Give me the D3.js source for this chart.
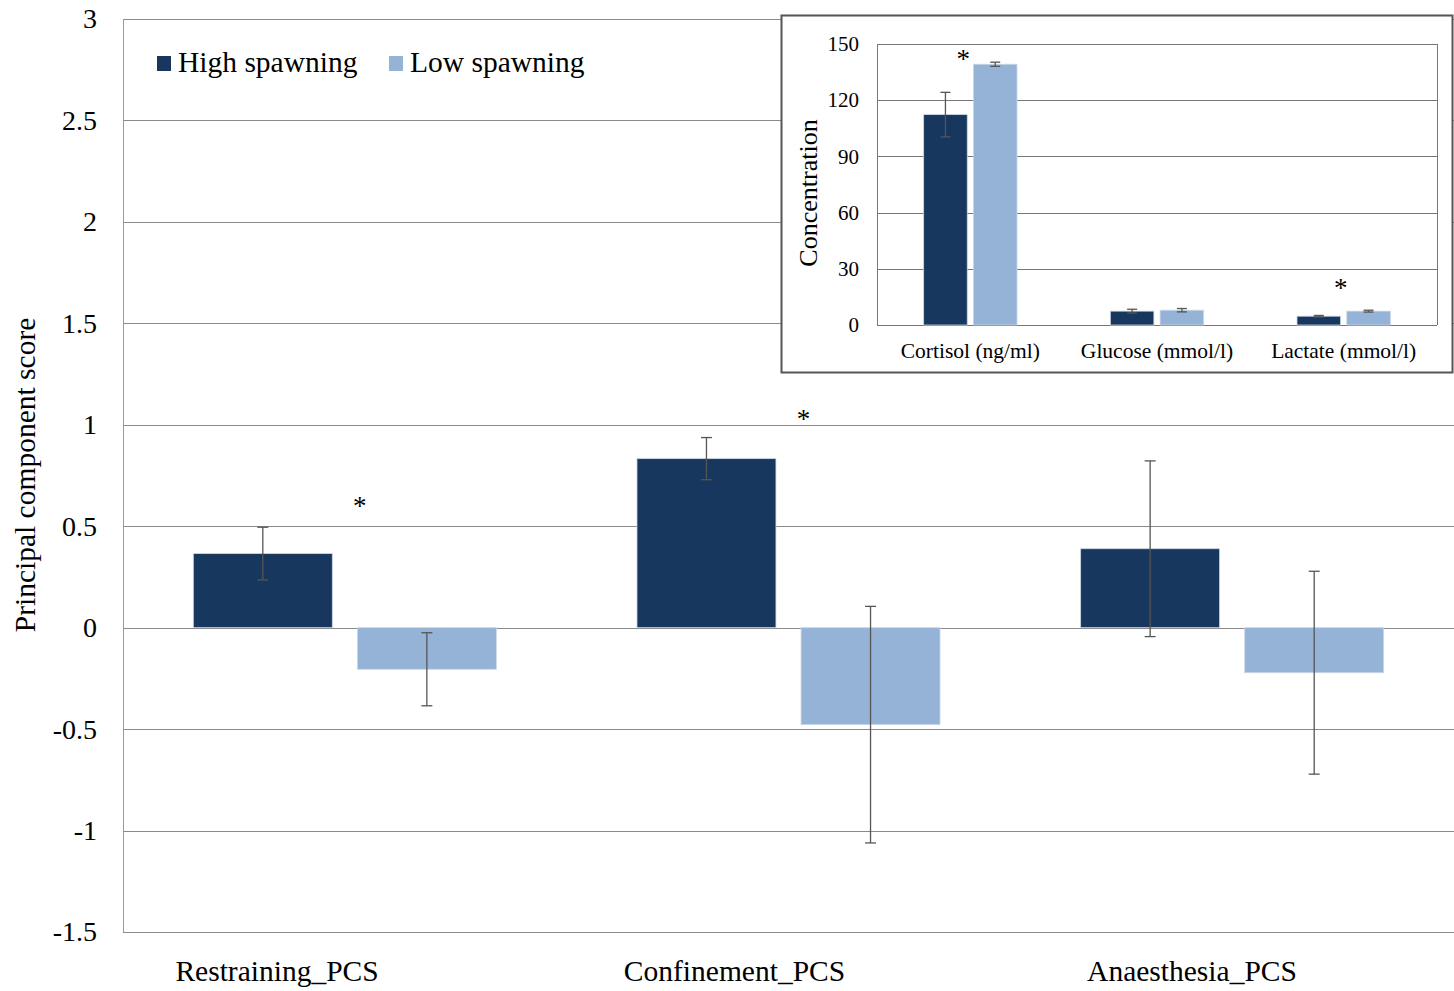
<!DOCTYPE html>
<html>
<head>
<meta charset="utf-8">
<script src="https://cdn.jsdelivr.net/npm/d3@7"></script>
<style>
  html, body { margin: 0; padding: 0; background: #fff; }
  svg { display: block; }
  text { font-family: "Liberation Serif", "Times New Roman", serif; fill: #000; }
</style>
</head>
<body>
<svg id="chart" width="1454" height="991"></svg>
<script>
// Principal component scores by stressor
const categories = ["Restraining_PCS", "Confinement_PCS", "Anaesthesia_PCS"];
const seriesNames = ["High spawning", "Low spawning"];
const highMeans = [0.365, 0.833, 0.389];
const highErrors = [0.13, 0.104, 0.433];
const lowMeans = [-0.205, -0.478, -0.222];
const lowErrors = [0.18, 0.583, 0.50];
const yTicks = [3, 2.5, 2, 1.5, 1, 0.5, 0, -0.5, -1, -1.5];
const significant = ["Restraining_PCS", "Confinement_PCS"];

// Inset: plasma concentrations
const insetCategories = ["Cortisol (ng/ml)", "Glucose (mmol/l)", "Lactate (mmol/l)"];
const insetHighMeans = [112.3, 7.4, 4.7];
const insetHighErrors = [11.9, 1.0, 0.4];
const insetLowMeans = [139.2, 7.9, 7.4];
const insetLowErrors = [1.1, 0.9, 0.5];
const insetTicks = [0, 30, 60, 90, 120, 150];
const insetSignificant = ["Cortisol (ng/ml)", "Lactate (mmol/l)"];

const colors = ["#17375e", "#95b3d7"];
const svg = d3.select("#chart");

// plain hyphen-minus tick text
const plainFormat = d => String(d);

function groupedBars(g, cats, highs, highErr, lows, lowErr, x, xInner, y, capHalf) {
  const rows = cats.map((c, i) => [
    { cat: c, s: 0, v: highs[i], e: highErr[i] },
    { cat: c, s: 1, v: lows[i], e: lowErr[i] }
  ]).flat();
  g.selectAll("rect.bar").data(rows).join("rect")
    .attr("class", "bar")
    .attr("x", d => x(d.cat) + xInner(d.s))
    .attr("width", xInner.bandwidth())
    .attr("y", d => y(Math.max(0, d.v)))
    .attr("height", d => Math.abs(y(d.v) - y(0)))
    .attr("fill", d => colors[d.s])
    .attr("stroke", "#c9d6e6")
    .attr("stroke-width", 0.8);
  const eb = g.selectAll("g.err").data(rows).join("g").attr("class", "err")
    .attr("stroke", "#555").attr("stroke-width", 1.3);
  const cx = d => x(d.cat) + xInner(d.s) + xInner.bandwidth() / 2;
  eb.append("line").attr("x1", cx).attr("x2", cx)
    .attr("y1", d => y(d.v + d.e)).attr("y2", d => y(d.v - d.e));
  eb.append("line").attr("x1", d => cx(d) - capHalf).attr("x2", d => cx(d) + capHalf)
    .attr("y1", d => y(d.v + d.e)).attr("y2", d => y(d.v + d.e));
  eb.append("line").attr("x1", d => cx(d) - capHalf).attr("x2", d => cx(d) + capHalf)
    .attr("y1", d => y(d.v - d.e)).attr("y2", d => y(d.v - d.e));
}

// ---------- main chart ----------
const M = { left: 123, right: 1454, top: 19, bottom: 932 };
const x = d3.scaleBand().domain(categories).range([M.left, M.right]).paddingInner(0.317).paddingOuter(0.1585);
const xInner = d3.scaleBand().domain([0, 1]).range([0, x.bandwidth()]).paddingInner(0.153);
const y = d3.scaleLinear().domain([-1.5, 3]).range([M.bottom, M.top]);

const main = svg.append("g");
// gridlines
main.append("g").selectAll("line").data(yTicks).join("line")
  .attr("x1", M.left).attr("x2", M.right)
  .attr("y1", d => Math.round(y(d)) + 0.5).attr("y2", d => Math.round(y(d)) + 0.5)
  .attr("stroke", "#8a8a8a").attr("stroke-width", 1);
// left axis line
main.append("line").attr("x1", M.left + 0.5).attr("x2", M.left + 0.5)
  .attr("y1", M.top).attr("y2", M.bottom).attr("stroke", "#9a9a9a");

// y tick labels through a d3 axis
const yAxis = main.append("g").attr("transform", `translate(${M.left - 26},0)`)
  .call(d3.axisLeft(y).tickValues(yTicks).tickSize(0).tickPadding(0).tickFormat(plainFormat));
yAxis.select(".domain").remove();
yAxis.selectAll("text").attr("font-size", 28).attr("font-family", "Liberation Serif, serif").attr("fill", "#000");

groupedBars(main.append("g"), categories, highMeans, highErrors, lowMeans, lowErrors, x, xInner, y, 5.5);

// significance markers
main.selectAll("text.sig").data(significant).join("text").attr("class", "sig")
  .attr("x", d => x(d) + x.bandwidth() / 2 + 15)
  .attr("y", d => y(highMeans[categories.indexOf(d)] + highErrors[categories.indexOf(d)]) + (d === "Restraining_PCS" ? -12 : -10))
  .attr("text-anchor", "middle").attr("font-size", 27).text("*");

// category labels
const labelX = d3.scalePoint().domain(categories).range([277, 1192]);
main.selectAll("text.cat").data(categories).join("text").attr("class", "cat")
  .attr("x", d => labelX(d)).attr("y", 981)
  .attr("text-anchor", "middle").attr("font-size", 29.5).text(d => d);

// y-axis title
main.append("text").attr("transform", "translate(35,475) rotate(-90)")
  .attr("text-anchor", "middle").attr("font-size", 29.5).text("Principal component score");

// legend
const legend = main.append("g");
const legendX = [157, 389];
seriesNames.forEach((s, i) => {
  legend.append("rect").attr("x", legendX[i]).attr("y", 56).attr("width", 14).attr("height", 15).attr("fill", colors[i]);
  legend.append("text").attr("x", legendX[i] + 21).attr("y", 72).attr("font-size", 29.5).text(s);
});

// ---------- inset ----------
const inset = svg.append("g");
inset.append("rect").attr("x", 781.5).attr("y", 15.5).attr("width", 671).attr("height", 357)
  .attr("fill", "#fff").attr("stroke", "#555").attr("stroke-width", 2);

const I = { left: 877, right: 1437, top: 44, bottom: 325 };
const ix = d3.scaleBand().domain(insetCategories).range([I.left, I.right]).paddingInner(0.5).paddingOuter(0.25);
const ixInner = d3.scaleBand().domain([0, 1]).range([0, ix.bandwidth()]).paddingInner(0.125);
const iy = d3.scaleLinear().domain([0, 150]).range([I.bottom, I.top]);

inset.append("g").selectAll("line").data(insetTicks).join("line")
  .attr("x1", I.left).attr("x2", I.right)
  .attr("y1", d => Math.round(iy(d)) + 0.5).attr("y2", d => Math.round(iy(d)) + 0.5)
  .attr("stroke", "#777").attr("stroke-width", 1);
inset.append("line").attr("x1", I.left + 0.5).attr("x2", I.left + 0.5).attr("y1", I.top).attr("y2", I.bottom).attr("stroke", "#777");
inset.append("line").attr("x1", I.right + 0.5).attr("x2", I.right + 0.5).attr("y1", I.top).attr("y2", I.bottom).attr("stroke", "#777");

const iyAxis = inset.append("g").attr("transform", `translate(${I.left - 18},0)`)
  .call(d3.axisLeft(iy).tickValues(insetTicks).tickSize(0).tickPadding(0).tickFormat(plainFormat));
iyAxis.select(".domain").remove();
iyAxis.selectAll("text").attr("font-size", 21).attr("font-family", "Liberation Serif, serif").attr("fill", "#000");

groupedBars(inset.append("g"), insetCategories, insetHighMeans, insetHighErrors, insetLowMeans, insetLowErrors, ix, ixInner, iy, 5);

inset.selectAll("text.sig").data(insetSignificant).join("text").attr("class", "sig")
  .attr("x", d => ix(d) + ix.bandwidth() / 2 + (d === "Cortisol (ng/ml)" ? -7 : -3))
  .attr("y", d => {
    const i = insetCategories.indexOf(d);
    return iy(Math.max(insetHighMeans[i] + insetHighErrors[i], insetLowMeans[i] + insetLowErrors[i])) + (d === "Cortisol (ng/ml)" ? 6 : -13);
  })
  .attr("text-anchor", "middle").attr("font-size", 27).text("*");

inset.selectAll("text.cat").data(insetCategories).join("text").attr("class", "cat")
  .attr("x", d => ix(d) + ix.bandwidth() / 2).attr("y", 358)
  .attr("text-anchor", "middle").attr("font-size", 21.5).text(d => d);

inset.append("text").attr("transform", "translate(817,193) rotate(-90)")
  .attr("text-anchor", "middle").attr("font-size", 26).text("Concentration");
</script>
</body>
</html>
